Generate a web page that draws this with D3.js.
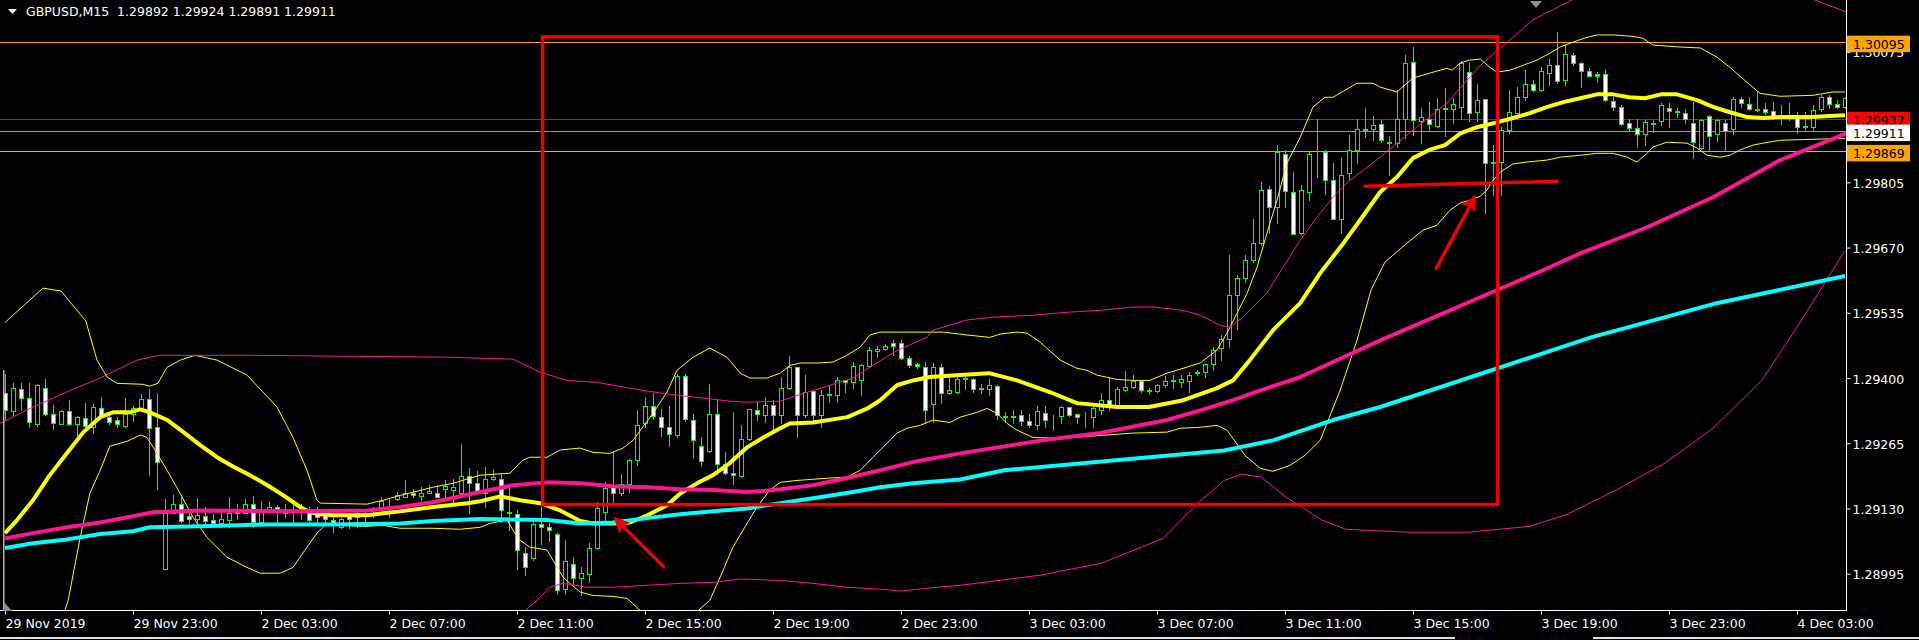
<!DOCTYPE html>
<html><head><meta charset="utf-8">
<script src="https://cdn.jsdelivr.net/npm/d3@7"></script>
<style>
html,body{margin:0;padding:0;background:#000;overflow:hidden;}
svg{display:block;}
text{font-family:"DejaVu Sans",sans-serif;}
</style></head><body>
<svg id="c" width="1919" height="640"></svg>
<script>
// ---------------- DATA ----------------
const titleText = "GBPUSD,M15  1.29892 1.29924 1.29891 1.29911";
const timeTickBars = [0,16,32,48,64,80,96,112,128,144,160,176,192,208,224];
const timeLabels = ["29 Nov 2019","29 Nov 23:00","2 Dec 03:00","2 Dec 07:00","2 Dec 11:00","2 Dec 15:00","2 Dec 19:00","2 Dec 23:00","3 Dec 03:00","3 Dec 07:00","3 Dec 11:00","3 Dec 15:00","3 Dec 19:00","3 Dec 23:00","4 Dec 03:00"];
const priceTicks = [1.28995,1.29130,1.29265,1.29400,1.29535,1.29670,1.29805,1.29940,1.30075];

const openP = [1.29368,1.29332,1.29378,1.29358,1.29305,1.29380,1.29325,1.29305,1.29332,1.29304,
1.29318,1.29299,1.29337,1.29320,1.29313,1.29300,1.29325,1.29334,1.29356,1.29298,
1.29004,1.29120,1.29140,1.29114,1.29109,1.29115,1.29107,1.29099,1.29107,1.29123,
1.29121,1.29140,1.29102,1.29125,1.29133,1.29123,1.29122,1.29122,1.29121,1.29116,
1.29116,1.29107,1.29092,1.29115,1.29113,1.29118,1.29129,1.29133,1.29143,1.29149,
1.29154,1.29163,1.29156,1.29161,1.29161,1.29171,1.29168,1.29161,1.29197,1.29182,
1.29161,1.29191,1.29192,1.29121,1.29119,1.29038,1.29028,1.29097,1.29091,1.29078,
1.28964,1.29016,1.28987,1.28995,1.29049,1.29123,1.29175,1.29163,1.29180,1.29230,
1.29306,1.29342,1.29320,1.29298,1.29282,1.29404,1.29314,1.29260,1.29249,1.29325,
1.29223,1.29204,1.29197,1.29273,1.29333,1.29323,1.29344,1.29323,1.29380,1.29422,
1.29323,1.29373,1.29323,1.29367,1.29364,1.29395,1.29391,1.29396,1.29424,1.29456,
1.29461,1.29473,1.29473,1.29442,1.29429,1.29423,1.29347,1.29422,1.29368,1.29371,
1.29397,1.29397,1.29377,1.29378,1.29383,1.29320,1.29321,1.29323,1.29312,1.29302,
1.29328,1.29317,1.29321,1.29339,1.29325,1.29317,1.29319,1.29334,1.29355,1.29345,
1.29376,1.29381,1.29394,1.29374,1.29373,1.29385,1.29393,1.29392,1.29394,1.29410,
1.29412,1.29428,1.29462,1.29481,1.29572,1.29606,1.29644,1.29680,1.29792,1.29753,
1.29864,1.29784,1.29701,1.29785,1.29863,1.29868,1.29809,1.29730,1.29824,1.29871,
1.29913,1.29916,1.29925,1.29888,1.29886,1.29936,1.30053,1.29932,1.29937,1.29922,
1.29957,1.29956,1.29960,1.30033,1.29951,1.29977,1.29846,1.29848,1.29913,1.29949,
1.29981,1.30008,1.29996,1.30031,1.30048,1.30017,1.30069,1.30051,1.30036,1.30029,
1.30029,1.29974,1.29960,1.29927,1.29917,1.29904,1.29926,1.29932,1.29958,1.29952,
1.29949,1.29928,1.29875,1.29943,1.29905,1.29928,1.29916,1.29978,1.29968,1.29957,
1.29956,1.29953,1.29940,1.29939,1.29940,1.29921,1.29919,1.29956,1.29982,1.29968,
1.29960];
const highP = [1.29409,1.29390,1.29389,1.29389,1.29387,1.29398,1.29345,1.29333,1.29354,1.29321,
1.29349,1.29346,1.29360,1.29330,1.29320,1.29358,1.29342,1.29366,1.29378,1.29368,
1.29149,1.29158,1.29154,1.29120,1.29151,1.29133,1.29118,1.29128,1.29154,1.29139,
1.29149,1.29155,1.29145,1.29144,1.29137,1.29139,1.29137,1.29140,1.29133,1.29133,
1.29120,1.29113,1.29111,1.29120,1.29127,1.29123,1.29133,1.29154,1.29149,1.29164,
1.29189,1.29171,1.29175,1.29178,1.29178,1.29189,1.29190,1.29263,1.29213,1.29208,
1.29216,1.29211,1.29202,1.29178,1.29126,1.29051,1.29106,1.29133,1.29099,1.29079,
1.29064,1.29030,1.29009,1.29059,1.29144,1.29185,1.29247,1.29202,1.29233,1.29333,
1.29361,1.29368,1.29335,1.29342,1.29409,1.29409,1.29325,1.29278,1.29387,1.29356,
1.29247,1.29329,1.29302,1.29335,1.29351,1.29361,1.29355,1.29402,1.29445,1.29423,
1.29406,1.29375,1.29375,1.29385,1.29402,1.29395,1.29433,1.29430,1.29465,1.29466,
1.29471,1.29478,1.29478,1.29445,1.29431,1.29433,1.29431,1.29430,1.29402,1.29404,
1.29406,1.29401,1.29388,1.29397,1.29385,1.29330,1.29333,1.29334,1.29326,1.29343,
1.29343,1.29323,1.29343,1.29340,1.29326,1.29330,1.29340,1.29369,1.29399,1.29381,
1.29414,1.29407,1.29395,1.29379,1.29388,1.29404,1.29407,1.29407,1.29412,1.29416,
1.29430,1.29464,1.29488,1.29654,1.29613,1.29654,1.29730,1.29806,1.29797,1.29882,
1.29871,1.29826,1.29799,1.29868,1.29935,1.29871,1.29845,1.29858,1.29902,1.29935,
1.29958,1.29942,1.29934,1.29901,1.29997,1.30069,1.30086,1.29958,1.29972,1.29979,
1.30000,1.29979,1.30055,1.30051,1.30009,1.29978,1.29882,1.29920,1.29996,1.30003,
1.30038,1.30017,1.30044,1.30060,1.30117,1.30089,1.30072,1.30053,1.30041,1.30034,
1.30039,1.29981,1.29965,1.29937,1.29936,1.29934,1.29934,1.29969,1.29969,1.29958,
1.29956,1.29972,1.29935,1.29944,1.29935,1.29933,1.29982,1.29982,1.29981,1.29993,
1.29970,1.29972,1.29965,1.29969,1.29951,1.29951,1.29965,1.29986,1.29986,1.29975,
1.29981];
const lowP = [1.29313,1.29323,1.29334,1.29299,1.29301,1.29323,1.29294,1.29304,1.29302,1.29282,
1.29299,1.29287,1.29320,1.29305,1.29298,1.29299,1.29311,1.29332,1.29199,1.29171,
1.29004,1.29120,1.29102,1.29099,1.29099,1.29095,1.29092,1.29092,1.29092,1.29109,
1.29120,1.29092,1.29101,1.29120,1.29099,1.29113,1.29099,1.29109,1.29099,1.29099,
1.29099,1.29082,1.29089,1.29089,1.29092,1.29095,1.29113,1.29130,1.29113,1.29147,
1.29153,1.29154,1.29147,1.29161,1.29153,1.29147,1.29144,1.29160,1.29120,1.29161,
1.29133,1.29189,1.29102,1.29085,1.29004,1.28992,1.29023,1.29057,1.29063,1.28954,
1.28954,1.28971,1.28950,1.28978,1.29047,1.29099,1.29140,1.29157,1.29164,1.29220,
1.29299,1.29316,1.29280,1.29259,1.29278,1.29311,1.29235,1.29217,1.29247,1.29202,
1.29201,1.29180,1.29195,1.29271,1.29313,1.29309,1.29289,1.29306,1.29378,1.29278,
1.29320,1.29311,1.29299,1.29351,1.29351,1.29371,1.29380,1.29364,1.29423,1.29444,
1.29458,1.29447,1.29440,1.29423,1.29420,1.29307,1.29309,1.29349,1.29367,1.29368,
1.29378,1.29371,1.29369,1.29364,1.29316,1.29309,1.29306,1.29302,1.29299,1.29295,
1.29299,1.29293,1.29306,1.29321,1.29307,1.29299,1.29299,1.29326,1.29334,1.29343,
1.29374,1.29380,1.29371,1.29366,1.29372,1.29381,1.29379,1.29381,1.29371,1.29406,
1.29402,1.29416,1.29437,1.29464,1.29502,1.29599,1.29640,1.29675,1.29700,1.29721,
1.29754,1.29697,1.29699,1.29768,1.29815,1.29780,1.29730,1.29700,1.29809,1.29844,
1.29898,1.29892,1.29889,1.29820,1.29879,1.29896,1.29903,1.29887,1.29913,1.29920,
1.29900,1.29927,1.29937,1.29931,1.29931,1.29741,1.29779,1.29779,1.29906,1.29948,
1.29975,1.29993,1.29993,1.30006,1.30010,1.30006,1.30048,1.30003,1.30024,1.30013,
1.29974,1.29955,1.29924,1.29913,1.29879,1.29882,1.29910,1.29924,1.29920,1.29941,
1.29927,1.29855,1.29874,1.29871,1.29891,1.29872,1.29905,1.29960,1.29955,1.29953,
1.29946,1.29937,1.29926,1.29934,1.29908,1.29913,1.29912,1.29953,1.29958,1.29958,
1.29958];
const closeP = [1.29334,1.29380,1.29358,1.29308,1.29385,1.29325,1.29306,1.29331,1.29304,1.29320,
1.29300,1.29339,1.29323,1.29309,1.29304,1.29325,1.29337,1.29356,1.29296,1.29227,
1.29120,1.29140,1.29104,1.29109,1.29116,1.29104,1.29099,1.29109,1.29120,1.29120,
1.29140,1.29102,1.29123,1.29133,1.29128,1.29121,1.29127,1.29124,1.29107,1.29113,
1.29109,1.29099,1.29109,1.29109,1.29120,1.29120,1.29131,1.29146,1.29144,1.29158,
1.29163,1.29158,1.29163,1.29166,1.29154,1.29176,1.29175,1.29197,1.29183,1.29162,
1.29192,1.29195,1.29126,1.29123,1.29044,1.29008,1.29097,1.29091,1.29085,1.28962,
1.29021,1.28987,1.28997,1.29049,1.29130,1.29173,1.29161,1.29180,1.29230,1.29302,
1.29342,1.29321,1.29298,1.29285,1.29404,1.29316,1.29271,1.29229,1.29325,1.29222,
1.29204,1.29200,1.29273,1.29335,1.29325,1.29344,1.29323,1.29380,1.29422,1.29323,
1.29371,1.29323,1.29364,1.29364,1.29395,1.29391,1.29424,1.29427,1.29458,1.29461,
1.29466,1.29466,1.29442,1.29427,1.29424,1.29333,1.29422,1.29368,1.29376,1.29397,
1.29400,1.29378,1.29379,1.29385,1.29323,1.29321,1.29320,1.29312,1.29302,1.29331,
1.29314,1.29318,1.29340,1.29323,1.29319,1.29318,1.29337,1.29355,1.29345,1.29378,
1.29381,1.29394,1.29376,1.29375,1.29386,1.29394,1.29395,1.29397,1.29406,1.29412,
1.29428,1.29457,1.29481,1.29572,1.29606,1.29644,1.29680,1.29790,1.29753,1.29868,
1.29787,1.29699,1.29790,1.29864,1.29864,1.29809,1.29730,1.29821,1.29871,1.29916,
1.29915,1.29923,1.29893,1.29886,1.29936,1.30051,1.29934,1.29940,1.29925,1.29956,
1.29959,1.29967,1.30051,1.29948,1.29975,1.29844,1.29845,1.29913,1.29950,1.29981,
1.30009,1.29997,1.30035,1.30048,1.30015,1.30070,1.30051,1.30036,1.30026,1.30026,
1.29975,1.29960,1.29926,1.29917,1.29904,1.29929,1.29928,1.29964,1.29953,1.29951,
1.29937,1.29889,1.29934,1.29900,1.29934,1.29912,1.29978,1.29970,1.29957,1.29955,
1.29950,1.29941,1.29939,1.29941,1.29920,1.29920,1.29955,1.29981,1.29968,1.29960,
1.29979];

// indicator readings: [bar index, price]
const yellowMA = [[0,1.29079],[1.5,1.29106],[3.5,1.29147],[5.6,1.29199],[7.8,1.29246],[9.8,1.29288],[11.9,1.29319],[13.5,1.29329],[15.6,1.29329],[16.9,1.29335],[18.1,1.29329],[20.3,1.29313],[22.3,1.29288],[24.4,1.29261],[26.5,1.29236],[28.5,1.29217],[30.6,1.29199],[32.8,1.29178],[34.8,1.29157],[36.9,1.29133],[38.1,1.29122],[39.4,1.29118],[41,1.29116],[45.3,1.29116],[47.3,1.29120],[49.4,1.29124],[53.5,1.29133],[57.8,1.29141],[59.4,1.29145],[61.9,1.29155],[64.4,1.29147],[66.9,1.29141],[69.4,1.29126],[71.9,1.29104],[73.5,1.29099],[76,1.29099],[78.1,1.29101],[80.3,1.29116],[82.8,1.29137],[84.4,1.29161],[86.5,1.29182],[88.5,1.29199],[90.6,1.29224],[92.8,1.29257],[94.8,1.29277],[96.9,1.29296],[98.1,1.29306],[101,1.29308],[105.3,1.29319],[107.8,1.29337],[109.4,1.29354],[111.5,1.29385],[113.5,1.29395],[115.6,1.29402],[119.4,1.29406],[123,1.29410],[126.5,1.29395],[130.6,1.29371],[134,1.29348],[139,1.29340],[143,1.29340],[147.3,1.29354],[151.5,1.29379],[153.5,1.29395],[155.6,1.29437],[158.5,1.29499],[161.9,1.29555],[164.4,1.29617],[167.3,1.29679],[169.4,1.29727],[171.9,1.29785],[174,1.29816],[176,1.29855],[178,1.29872],[180,1.29882],[182,1.29907],[184,1.29919],[186.5,1.29929],[188.5,1.29938],[190.6,1.29948],[192.8,1.29961],[194.8,1.29971],[196.9,1.29979],[199,1.29987],[201,1.29987],[203,1.29981],[205,1.29979],[207,1.29987],[209,1.29987],[211.5,1.29975],[213.5,1.29961],[215.6,1.29950],[217.8,1.29940],[219.8,1.29938],[222,1.29940],[224,1.29940],[226,1.29940],[228,1.29942],[230,1.29944]];
const yellowUpper = [[0,1.29515],[4.75,1.29586],[7,1.29580],[10.1,1.29518],[11.5,1.29437],[12.75,1.29402],[14,1.29389],[17.25,1.29387],[18.1,1.29383],[19.1,1.29389],[20.25,1.29422],[21.9,1.29437],[23.75,1.29447],[26.5,1.29437],[30.25,1.29406],[34,1.29340],[36,1.29277],[37.75,1.29209],[39,1.29147],[39.4,1.29141],[45.25,1.29139],[47.25,1.29147],[49.4,1.29157],[53.5,1.29174],[56,1.29182],[59.4,1.29199],[63.1,1.29203],[64.75,1.29230],[65.6,1.29236],[67.75,1.29236],[69.4,1.29251],[71.9,1.29255],[73.5,1.29246],[75.6,1.29244],[77.25,1.29255],[78.5,1.29271],[81,1.29327],[82.75,1.29371],[84,1.29416],[86,1.29443],[88.1,1.29462],[90.25,1.29443],[91.9,1.29410],[93.1,1.29400],[95.25,1.29400],[96.9,1.29410],[98.1,1.29426],[99.4,1.29431],[101.5,1.29431],[103.5,1.29433],[105.25,1.29447],[106.9,1.29464],[108.1,1.29489],[109.4,1.29495],[111.9,1.29495],[117.25,1.29495],[120.25,1.29489],[123.1,1.29484],[124.4,1.29491],[126.5,1.29495],[127.75,1.29493],[129.4,1.29474],[131.9,1.29437],[134,1.29420],[135.25,1.29416],[136.5,1.29406],[139,1.29397],[141,1.29395],[143.1,1.29395],[145.25,1.29410],[147.25,1.29420],[149.4,1.29431],[151.5,1.29458],[152.75,1.29493],[154,1.29534],[155.25,1.29575],[156.5,1.29629],[157.75,1.29700],[159,1.29768],[160.25,1.29845],[161.9,1.29898],[163.5,1.29961],[165,1.29981],[166,1.29981],[169,1.30010],[171,1.30010],[171.9,1.30002],[174,1.29992],[176,1.30021],[178.1,1.30031],[180.25,1.30041],[180.9,1.30037],[181.9,1.30052],[183.1,1.30058],[184.4,1.30060],[185.6,1.30043],[186.5,1.30033],[188.1,1.30037],[189.75,1.30047],[191.5,1.30058],[193.1,1.30072],[194.4,1.30085],[196,1.30095],[197.75,1.30105],[199,1.30110],[201,1.30110],[203.5,1.30107],[204.75,1.30103],[206,1.30089],[209.4,1.30085],[211.9,1.30083],[214,1.30064],[215.6,1.30043],[217.75,1.30012],[219.4,1.29989],[221.9,1.29983],[226,1.29985],[228.5,1.29992],[230,1.29992]];
const yellowLower = [[0,1.28609],[4.4,1.28774],[6.25,1.28857],[7.9,1.28940],[9.4,1.29070],[10.6,1.29161],[11.9,1.29209],[13.1,1.29259],[15.25,1.29269],[16.9,1.29282],[17.75,1.29277],[19,1.29244],[20.25,1.29209],[21.9,1.29161],[23.5,1.29112],[25.25,1.29070],[27.75,1.29029],[30.25,1.29008],[31.9,1.28996],[34.4,1.28996],[36,1.29008],[37.75,1.29050],[39,1.29079],[40,1.29095],[41,1.29095],[45.25,1.29093],[47.25,1.29095],[49.4,1.29089],[53.5,1.29089],[56.9,1.29087],[59.4,1.29091],[60.6,1.29099],[62.75,1.29106],[63.5,1.29085],[64.4,1.29064],[65.6,1.29050],[67.75,1.29044],[68.5,1.29023],[69.75,1.28988],[70.6,1.28975],[71.9,1.28957],[73.5,1.28950],[76,1.28948],[77.75,1.28944],[79.4,1.28919],[81.9,1.28894],[85.6,1.28903],[88.1,1.28940],[89.4,1.28988],[91,1.29050],[92.75,1.29099],[94,1.29133],[95.6,1.29168],[96.9,1.29184],[99,1.29188],[103.1,1.29193],[105.25,1.29195],[106.9,1.29209],[108.5,1.29236],[110.25,1.29265],[111.5,1.29286],[112.75,1.29296],[114.4,1.29302],[116,1.29313],[118.1,1.29308],[119.4,1.29319],[121.5,1.29329],[122.75,1.29337],[124,1.29327],[125.25,1.29306],[126.5,1.29292],[128.5,1.29277],[131.9,1.29275],[136,1.29280],[141,1.29286],[145.25,1.29288],[146.9,1.29296],[149.4,1.29298],[151.5,1.29302],[152.75,1.29292],[153.5,1.29275],[155,1.29240],[156.9,1.29213],[158.5,1.29207],[160.6,1.29219],[162.5,1.29240],[164.4,1.29271],[166.9,1.29375],[169,1.29478],[170.75,1.29582],[172.5,1.29640],[175.25,1.29679],[177.25,1.29706],[179,1.29716],[180.6,1.29747],[181.9,1.29762],[183.1,1.29768],[184.4,1.29776],[185.25,1.29789],[186,1.29809],[186.9,1.29826],[188.5,1.29843],[190.25,1.29847],[192.75,1.29851],[194.4,1.29857],[196.9,1.29861],[199,1.29865],[201,1.29865],[202.75,1.29857],[204,1.29847],[205.25,1.29865],[206,1.29878],[207.75,1.29888],[210.25,1.29886],[211.5,1.29876],[212.75,1.29861],[214.4,1.29857],[215.6,1.29861],[216.9,1.29872],[218.5,1.29882],[219.75,1.29886],[221.9,1.29892],[226,1.29894],[230,1.29896]];
const pinkMA = [[0,1.29068],[3.5,1.29079],[7.75,1.29091],[11.9,1.29101],[16,1.29114],[18.5,1.29122],[24.4,1.29126],[36.9,1.29124],[45.3,1.29126],[49.4,1.29133],[53.5,1.29143],[59.4,1.29164],[63.5,1.29178],[67.75,1.29184],[71.9,1.29182],[76,1.29176],[80.25,1.29174],[84.4,1.29170],[88.5,1.29168],[92.75,1.29164],[94.75,1.29166],[96.9,1.29170],[101,1.29178],[105.25,1.29193],[109.4,1.29209],[113.5,1.29226],[119.4,1.29244],[129.75,1.29271],[136.9,1.29286],[145.25,1.29313],[149.4,1.29333],[153.5,1.29354],[157.75,1.29379],[161.9,1.29402],[166,1.29433],[171.9,1.29478],[192.25,1.29623],[196.9,1.29658],[205.25,1.29712],[213.5,1.29774],[221.9,1.29851],[230.25,1.29907]];
const pinkUpper = [[-0.6,1.29306],[3.5,1.29340],[7.75,1.29371],[11.9,1.29400],[16.5,1.29437],[19.25,1.29447],[30.6,1.29447],[43.1,1.29445],[55.6,1.29443],[59.4,1.29441],[63.5,1.29439],[66.9,1.29412],[70.25,1.29395],[74,1.29391],[78.1,1.29379],[82.25,1.29368],[86.5,1.29360],[90.6,1.29352],[92.75,1.29350],[96.9,1.29352],[99,1.29364],[103.1,1.29385],[106,1.29400],[108.1,1.29422],[111.5,1.29457],[115.25,1.29484],[116,1.29499],[120.25,1.29520],[123.5,1.29526],[128.5,1.29530],[132.75,1.29536],[136.9,1.29540],[141,1.29547],[143.5,1.29547],[147.25,1.29540],[149.4,1.29530],[151.9,1.29509],[153.1,1.29505],[154.75,1.29526],[157.75,1.29576],[159.75,1.29629],[161.9,1.29685],[164,1.29733],[166,1.29774],[168.1,1.29809],[170.25,1.29836],[171.9,1.29857],[176,1.29913],[180.25,1.29969],[184.4,1.30047],[188.5,1.30105],[191,1.30141],[199.4,1.30213],[211.9,1.30234],[221.9,1.30207],[226.25,1.30182],[230.25,1.30157]];
const pinkLower = [[59.4,1.28837],[66.5,1.28940],[68.1,1.28967],[69.75,1.28975],[72.75,1.28967],[76,1.28967],[80.25,1.28971],[84.4,1.28975],[88.5,1.28977],[91.9,1.28984],[96.9,1.28981],[101,1.28975],[105.25,1.28967],[109.4,1.28963],[111.9,1.28959],[115.25,1.28965],[119.4,1.28971],[129.4,1.28992],[137.1,1.29017],[144.75,1.29068],[149.25,1.29143],[152.4,1.29188],[154.6,1.29201],[157,1.29195],[160,1.29155],[164.6,1.29106],[167.6,1.29087],[175.25,1.29081],[183,1.29081],[190.6,1.29093],[195.25,1.29118],[201.4,1.29168],[207.5,1.29224],[213.5,1.29296],[219.6,1.29395],[224.4,1.29515],[230,1.29664]];
const cyanMA = [[0,1.29048],[3.5,1.29058],[7.75,1.29066],[11.9,1.29077],[16,1.29083],[18.1,1.29091],[24.4,1.29093],[32.75,1.29097],[41,1.29097],[49.4,1.29099],[53.5,1.29104],[59.4,1.29108],[67.75,1.29106],[71.9,1.29099],[76,1.29101],[80.25,1.29110],[84.4,1.29118],[88.5,1.29124],[92.75,1.29130],[96.9,1.29141],[101,1.29151],[105.25,1.29162],[109.4,1.29174],[113.5,1.29182],[119.4,1.29190],[124.9,1.29209],[152.4,1.29250],[158.5,1.29271],[166,1.29313],[171.9,1.29340],[198.25,1.29484],[213.5,1.29553],[230,1.29611]];

// price levels
const levelOrange1 = 1.30095, levelOrange2 = 1.29869, levelAsk = 1.29937, levelBid = 1.29911;

// annotations: [bar index, price]
const boxCorners = [[67.2,1.30106],[186.56,1.29138]];
const arrowOne = [[82.3,1.29010],[76.04,1.29113]];
const arrowTwo = [[178.9,1.29627],[183.9,1.29780]];
const markLine = [[170,1.29797],[194,1.29807]];

// ---------------- DRAW ----------------
const W = 1919, H = 640, PR = 1847, PB = 611;
const svg = d3.select('#c');
const x = d3.scaleLinear().domain([0,230]).range([5,1845]);
const y = d3.scaleLinear().domain([1.2891781,1.3018227]).range([PB,0]);

svg.append('rect').attr('width',W).attr('height',H).attr('fill','#000');
svg.append('defs').append('clipPath').attr('id','clip')
  .append('rect').attr('x',0).attr('y',0).attr('width',PR).attr('height',PB);
const plot = svg.append('g').attr('clip-path','url(#clip)');

// horizontal levels
function hline(p,color){
  const yy = Math.round(y(p))+0.5;
  plot.append('line').attr('x1',0).attr('x2',PR).attr('y1',yy).attr('y2',yy)
    .attr('stroke',color).attr('stroke-width',1).attr('shape-rendering','crispEdges');
}
hline(levelOrange1,'#ffa500');
hline(levelOrange2,'#ffa500');
hline(levelAsk,'#ff0000');
hline(levelBid,'#8a96a3');

// candles
const bars = openP.map((o,i)=>({i,o,h:highP[i],l:lowP[i],c:closeP[i]}));
const cg = plot.append('g').attr('shape-rendering','crispEdges');
cg.selectAll('line.w').data(bars).join('line').attr('class','w')
  .attr('x1',d=>Math.round(x(d.i))+0.5).attr('x2',d=>Math.round(x(d.i))+0.5)
  .attr('y1',d=>Math.round(y(d.h))).attr('y2',d=>Math.round(y(d.l))+1)
  .attr('stroke','#00ff00').attr('stroke-width',1);
cg.selectAll('rect.b').data(bars).join('rect').attr('class','b')
  .attr('x',d=>Math.round(x(d.i))-1.5)
  .attr('y',d=>Math.round(y(Math.max(d.o,d.c)))+0.5)
  .attr('width',4)
  .attr('height',d=>Math.max(0,Math.round(y(Math.min(d.o,d.c)))-Math.round(y(Math.max(d.o,d.c)))))
  .attr('fill',d=>d.c<d.o?'#ffffff':'#000000')
  .attr('stroke','#00ff00').attr('stroke-width',1);

// indicator lines
const line = d3.line().x(d=>x(d[0])).y(d=>y(d[1]));
function drawLine(data,color,w){
  plot.append('path').datum(data).attr('d',line).attr('fill','none')
    .attr('stroke',color).attr('stroke-width',w).attr('stroke-linejoin','round');
}
drawLine(yellowUpper,'#ffff00',1);
drawLine(yellowLower,'#ffff00',1);
drawLine(pinkUpper,'#ff1493',1);
drawLine(pinkLower,'#ff1493',1);
drawLine(yellowMA,'#ffff00',4);
drawLine(pinkMA,'#ff1493',4);
drawLine(cyanMA,'#00ffff',4);

// annotations
const red = '#f20000';
plot.append('rect')
  .attr('x',x(boxCorners[0][0])).attr('y',y(boxCorners[0][1]))
  .attr('width',x(boxCorners[1][0])-x(boxCorners[0][0]))
  .attr('height',y(boxCorners[1][1])-y(boxCorners[0][1]))
  .attr('fill','none').attr('stroke',red).attr('stroke-width',3.5);
function arrow(a){
  const x0=x(a[0][0]), y0=y(a[0][1]), x1=x(a[1][0]), y1=y(a[1][1]);
  const ang = Math.atan2(y0-y1,x0-x1);
  const L = 18, sp = 25*Math.PI/180;
  const p1=[x1+L*Math.cos(ang-sp), y1+L*Math.sin(ang-sp)];
  const p2=[x1+L*Math.cos(ang+sp), y1+L*Math.sin(ang+sp)];
  const bx = x1+L*0.75*Math.cos(ang), by = y1+L*0.75*Math.sin(ang);
  plot.append('line').attr('x1',x0).attr('y1',y0).attr('x2',bx).attr('y2',by)
    .attr('stroke',red).attr('stroke-width',3.5).attr('stroke-linecap','round');
  plot.append('path').attr('d',`M${x1},${y1}L${p1[0]},${p1[1]}L${bx},${by}L${p2[0]},${p2[1]}Z`)
    .attr('fill',red);
}
arrow(arrowOne);
arrow(arrowTwo);
plot.append('line')
  .attr('x1',x(markLine[0][0])).attr('y1',y(markLine[0][1]))
  .attr('x2',x(markLine[1][0])).attr('y2',y(markLine[1][1]))
  .attr('stroke',red).attr('stroke-width',3.5).attr('stroke-linecap','round');

// axes
const xAxis = d3.axisBottom(x).tickValues(timeTickBars)
  .tickFormat((d,i)=>timeLabels[i]).tickSize(4).tickSizeOuter(0);
const gx = svg.append('g').attr('transform',`translate(0,${PB-0.5})`).call(xAxis);
gx.select('.domain').remove();
gx.selectAll('line').attr('stroke','#fff');
gx.selectAll('text').attr('text-anchor','start').attr('fill','#fff')
  .attr('font-size','12.5px').attr('font-family','DejaVu Sans').attr('dy',0).attr('y',17).attr('x',0);

const yAxis = d3.axisRight(y).tickValues(priceTicks).tickFormat(d3.format('.5f')).tickSize(4).tickSizeOuter(0);
const gy = svg.append('g').attr('transform',`translate(${PR-0.5},0)`).call(yAxis);
gy.select('.domain').remove();
gy.selectAll('line').attr('stroke','#fff');
gy.selectAll('text').attr('fill','#fff').attr('font-size','12.5px').attr('font-family','DejaVu Sans')
  .attr('dy',0).attr('y',5).attr('x',6);

// frame
svg.append('line').attr('x1',PR-0.5).attr('x2',PR-0.5).attr('y1',0).attr('y2',PB)
  .attr('stroke','#fff').attr('stroke-width',1);
svg.append('line').attr('x1',0).attr('x2',PR).attr('y1',PB-0.5).attr('y2',PB-0.5)
  .attr('stroke','#fff').attr('stroke-width',1);

// price label boxes
function priceBox(p,bg,fg){
  const yy = y(p);
  svg.append('rect').attr('x',PR).attr('y',yy-6.5).attr('width',63).attr('height',16.5).attr('fill',bg);
  svg.append('text').attr('x',PR+6).attr('y',yy+6.8).attr('fill',fg)
    .attr('font-size','12.5px').attr('font-family','DejaVu Sans').text(d3.format('.5f')(p));
}
priceBox(levelOrange1,'#ffa500','#000');
priceBox(levelAsk,'#ff0000','#000');
priceBox(levelOrange2,'#ffa500','#000');
priceBox(levelBid,'#ffffff','#000');

// title
svg.append('path').attr('d','M8,9L17,9L12.5,14Z').attr('fill','#fff');
svg.append('text').attr('x',26).attr('y',16).attr('fill','#fff')
  .attr('font-size','12.5px').attr('font-family','DejaVu Sans').attr('xml:space','preserve')
  .style('white-space','pre').text(titleText);

// window decorations
svg.append('rect').attr('x',3).attr('y',370).attr('width',1.5).attr('height',PB-370).attr('fill','#b0b0b0');
svg.append('path').attr('d','M4,611L12,611L4,602Z').attr('fill','#8c8c8c');
svg.append('path').attr('d','M1530,1L1542,1L1536,8Z').attr('fill','#8c8c8c');
svg.append('rect').attr('x',0).attr('y',637).attr('width',1455).attr('height',2).attr('fill','#e0e0e0');
svg.append('rect').attr('x',1593).attr('y',637).attr('width',326).attr('height',2).attr('fill','#e0e0e0');
</script>
</body></html>
